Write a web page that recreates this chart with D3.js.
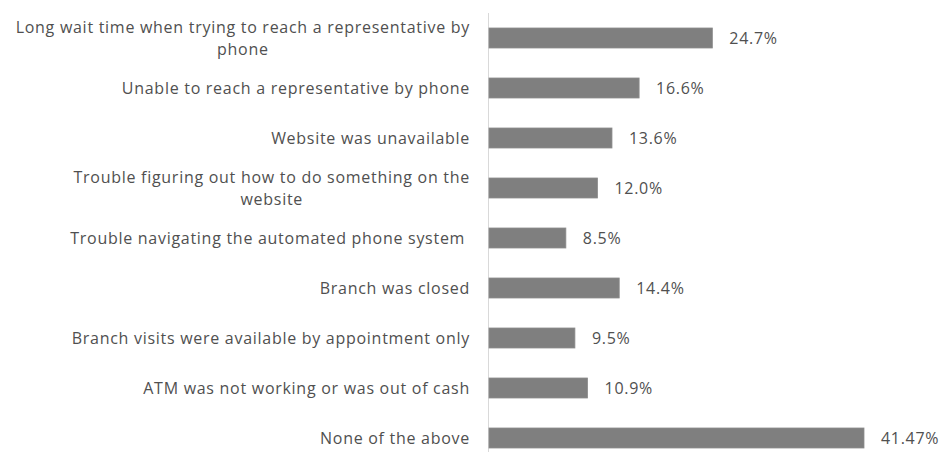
<!DOCTYPE html>
<html>
<head>
<meta charset="utf-8">
<script src="https://cdn.jsdelivr.net/npm/d3@7"></script>
<style>
  html, body { margin: 0; padding: 0; background: #fff; }
  svg { display: block; }
  text { font-family: "Open Sans", Lato, sans-serif; white-space: pre; }
</style>
</head>
<body>
<svg id="chart" width="944" height="452"></svg>
<script>
// Reasons reported for trouble reaching the bank (share of respondents, %)
const categories = [
  ["Long wait time when trying to reach a representative by", "phone"],
  ["Unable to reach a representative by phone"],
  ["Website was unavailable"],
  ["Trouble figuring out how to do something on the", "website"],
  ["Trouble navigating the automated phone system "],
  ["Branch was closed"],
  ["Branch visits were available by appointment only"],
  ["ATM was not working or was out of cash"],
  ["None of the above"]
];
const values = [24.7, 16.6, 13.6, 12.0, 8.5, 14.4, 9.5, 10.9, 41.47];
const valueLabels = ["24.7%", "16.6%", "13.6%", "12.0%", "8.5%", "14.4%", "9.5%", "10.9%", "41.47%"];

const svg = d3.select("#chart");
const axisX = 488.5;
const labelRight = 470;
const textColour = "#505050";

const x = d3.scaleLinear().domain([0, 41.47]).range([axisX + 0.5, 864]);
const y = d3.scaleBand()
  .domain(d3.range(categories.length))
  .range([13, 463])
  .paddingInner(0.6)
  .paddingOuter(0.3);

// category axis line
svg.append("line")
  .attr("x1", axisX).attr("x2", axisX)
  .attr("y1", 13).attr("y2", 452)
  .attr("stroke", "#d9d9d9").attr("stroke-width", 1);

// bars
svg.selectAll("rect.bar")
  .data(values)
  .join("rect")
  .attr("class", "bar")
  .attr("x", x(0))
  .attr("y", (d, i) => y(i))
  .attr("width", d => x(d) - x(0))
  .attr("height", y.bandwidth())
  .attr("fill", "#7f7f7f")
  .attr("stroke", "#8c8c8c")
  .attr("stroke-width", 0.8);

// value labels
svg.selectAll("text.val")
  .data(values)
  .join("text")
  .attr("class", "val")
  .attr("x", d => x(d) + 17)
  .attr("y", (d, i) => y(i) + y.bandwidth() / 2)
  .attr("dy", "0.35em")
  .attr("font-size", 16)
  .attr("letter-spacing", 0.7)
  .attr("fill", textColour)
  .text((d, i) => valueLabels[i]);

// category labels: right-aligned block, wrapped lines centred within it
const lineGap = 22;
categories.forEach((lines, i) => {
  const cy = y(i) + y.bandwidth() / 2;
  const g = svg.append("g");
  const texts = lines.map((ln, k) => g.append("text")
    .attr("y", cy + (k - (lines.length - 1) / 2) * lineGap)
    .attr("dy", "0.35em")
    .attr("font-size", 16)
    .attr("letter-spacing", 0.72)
    .attr("fill", textColour)
    .text(ln));
  const widest = d3.max(texts, t => t.node().getComputedTextLength());
  const centre = labelRight - widest / 2;
  texts.forEach(t => t.attr("x", centre).attr("text-anchor", "middle"));
});
</script>
</body>
</html>
